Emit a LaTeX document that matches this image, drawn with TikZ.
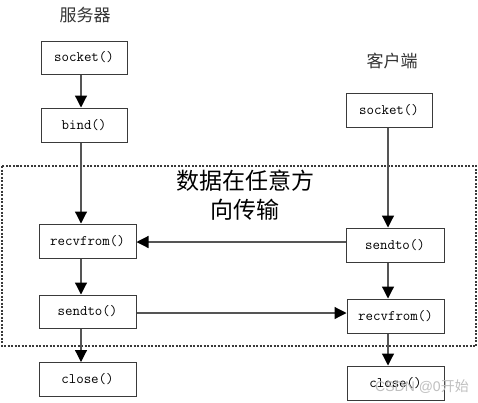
\documentclass[tikz,border=0pt]{standalone}
\usepackage{fontspec}
\setsansfont{Liberation Sans}
\newfontfamily\cjk{Noto Sans CJK SC}
\usetikzlibrary{arrows.meta}
\definecolor{boxc}{HTML}{3A3A3A}
\definecolor{linec}{HTML}{555555}
\definecolor{titlec}{HTML}{333333}
\begin{document}
\begin{tikzpicture}[x=1pt,y=-1pt,
  box/.style={draw=boxc, line width=1pt, fill=white, inner sep=0pt,
    font=\ttfamily\fontsize{14.5}{16}\selectfont},
  arr/.style={draw=linec, line width=1.2pt, -{Triangle[length=12pt,width=12pt,color=black]}},
  ttl/.style={text=titlec, font=\cjk\fontsize{17}{20}\selectfont, inner sep=0pt},
  big/.style={font=\cjk\fontsize{23}{26}\selectfont, inner sep=0pt}]
\useasboundingbox[fill=white] (0,0) rectangle (478,402);
% dashed region
\draw[boxc, line width=1.1pt, dash pattern=on 2pt off 1.5pt] (2,166) rectangle (476,346);
\node[big] (t1) at (245,181) {数据在任意方};
\node[big] (t2) at (245,210) {向传输};
% titles
\node[ttl] (srv) at (85,15) {服务器};
\node[ttl] (cli) at (392,61) {客户端};
% server boxes
\node[box, minimum width=86pt, minimum height=33pt] (ssock) at (84,57.5) {socket()};
\node[box, minimum width=86pt, minimum height=34pt] (sbind) at (84,125) {bind()};
\node[box, minimum width=97pt, minimum height=34pt] (srecv) at (87.5,241) {recvfrom()};
\node[box, minimum width=97pt, minimum height=33pt] (ssend) at (87.5,311.5) {sendto()};
\node[box, minimum width=97pt, minimum height=34pt] (sclose) at (87.5,379.5) {close()};
% client boxes
\node[box, minimum width=86pt, minimum height=34pt] (csock) at (389,110) {socket()};
\node[box, minimum width=98pt, minimum height=34pt] (csend) at (395,245) {sendto()};
\node[box, minimum width=97pt, minimum height=34pt] (crecv) at (395.5,316) {recvfrom()};
\node[box, minimum width=97pt, minimum height=34pt] (cclose) at (395.5,383) {close()};
% column coordinates
\coordinate (sx) at (81,0);
\coordinate (cx) at (388,0);
\coordinate (h1) at (0,242);
\coordinate (h2) at (0,313);
% server flow
\draw[arr] (ssock.south -| sx) -- (sbind.north -| sx);
\draw[arr] (sbind.south -| sx) -- (srecv.north -| sx);
\draw[arr] (srecv.south -| sx) -- (ssend.north -| sx);
\draw[arr] (ssend.south -| sx) -- (sclose.north -| sx);
% client flow
\draw[arr] (csock.south -| cx) -- (csend.north -| cx);
\draw[arr] (csend.south -| cx) -- (crecv.north -| cx);
\draw[arr] (crecv.south -| cx) -- (cclose.north -| cx);
% cross arrows
\draw[arr] (csend.west |- h1) -- (srecv.east |- h1);
\draw[arr] (ssend.east |- h2) -- (crecv.west |- h2);
% watermark
\node[text=gray!50, inner sep=0pt, font=\fontsize{14}{16}\selectfont] (wm) at (422,387)
  {\sffamily CSDN @0\cjk 开始};
\end{tikzpicture}
\end{document}
